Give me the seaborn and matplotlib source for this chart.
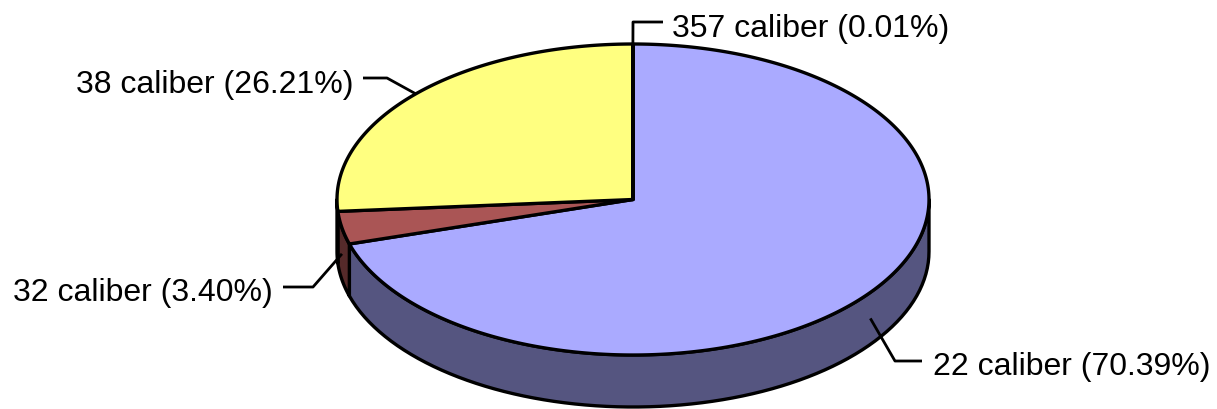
import numpy as np
import matplotlib
matplotlib.use('Agg')
import matplotlib.pyplot as plt
from matplotlib.patches import Polygon
import seaborn as sns

# data
calibers = ['22 caliber', '32 caliber', '38 caliber', '357 caliber']
shares = [70.39, 3.40, 26.21, 0.01]
top_colors = ['#AAAAFF', '#AA5555', '#FFFF80', '#80FFFF']
side_colors = ['#555580', '#552A2A', '#80803F', '#408080']

# label layout in pixels: elbow of the leader, end of the leader, text anchor, alignment
label_layout = {
    '22 caliber': ((895, 362), (922, 362), (933, 375), 'left'),
    '32 caliber': ((313, 288), (283, 288), (273, 301), 'right'),
    '38 caliber': ((387, 79), (363, 79), (353, 93), 'right'),
    '357 caliber': ((633, 23), (663, 23), (672, 37), 'left'),
}

sns.set_theme(style='white')
plt.rcParams['font.family'] = ['Liberation Sans', 'DejaVu Sans']

# pie geometry (pixels)
cx, cy, rx, ry, depth = 633, 200.5, 296, 155.5, 52


def rim(t_deg, drop=0.0):
    t = np.radians(t_deg)
    return cx + rx * np.cos(t), cy - ry * np.sin(t) + drop


fig = plt.figure(figsize=(12.17, 4.10), dpi=100)
ax = fig.add_axes([0, 0, 1, 1])
ax.set_xlim(0, 1217)
ax.set_ylim(410, 0)
ax.axis('off')

total = sum(shares)
sweeps = 360 * np.array(shares) / total
theta1 = 90 - np.concatenate([[0], np.cumsum(sweeps)[:-1]])
theta2 = theta1 - sweeps

# side walls (only the front half is visible)
for i in range(len(calibers)):
    for k in (-1, 0, 1):
        lo, hi = -180 + 360 * k, 0 + 360 * k
        a, b = max(theta2[i], lo), min(theta1[i], hi)
        if b - a <= 0:
            continue
        ts = np.linspace(a, b, 80)
        xt, yt = rim(ts)
        xb, yb = rim(ts[::-1], depth)
        pts = np.column_stack([np.concatenate([xt, xb]), np.concatenate([yt, yb])])
        ax.add_patch(Polygon(pts, closed=True, facecolor=side_colors[i],
                             edgecolor='black', lw=2.4, joinstyle='round', zorder=1))

# top faces
for i in range(len(calibers)):
    ts = np.linspace(theta1[i], theta2[i], max(int(sweeps[i] * 2), 3))
    xt, yt = rim(ts)
    pts = np.column_stack([np.concatenate([[cx], xt]), np.concatenate([[cy], yt])])
    ax.add_patch(Polygon(pts, closed=True, facecolor=top_colors[i],
                         edgecolor='black', lw=2.4, joinstyle='round', zorder=2))

# labels with leader lines
for i, name in enumerate(calibers):
    mid = (theta1[i] + theta2[i]) / 2
    front = np.sin(np.radians(mid)) < 0
    px, py = rim(mid, depth / 2 if front else 0)
    elbow, end, txt, ha = label_layout[name]
    ax.plot([px, elbow[0], end[0]], [py, elbow[1], end[1]], color='black',
            lw=2.0, zorder=3, solid_capstyle='butt')
    ax.text(txt[0], txt[1], f'{name} ({shares[i]:.2f}%)', ha=ha, va='baseline',
            fontsize=23, color='black', zorder=4)

fig.savefig('out.png', dpi=100)
